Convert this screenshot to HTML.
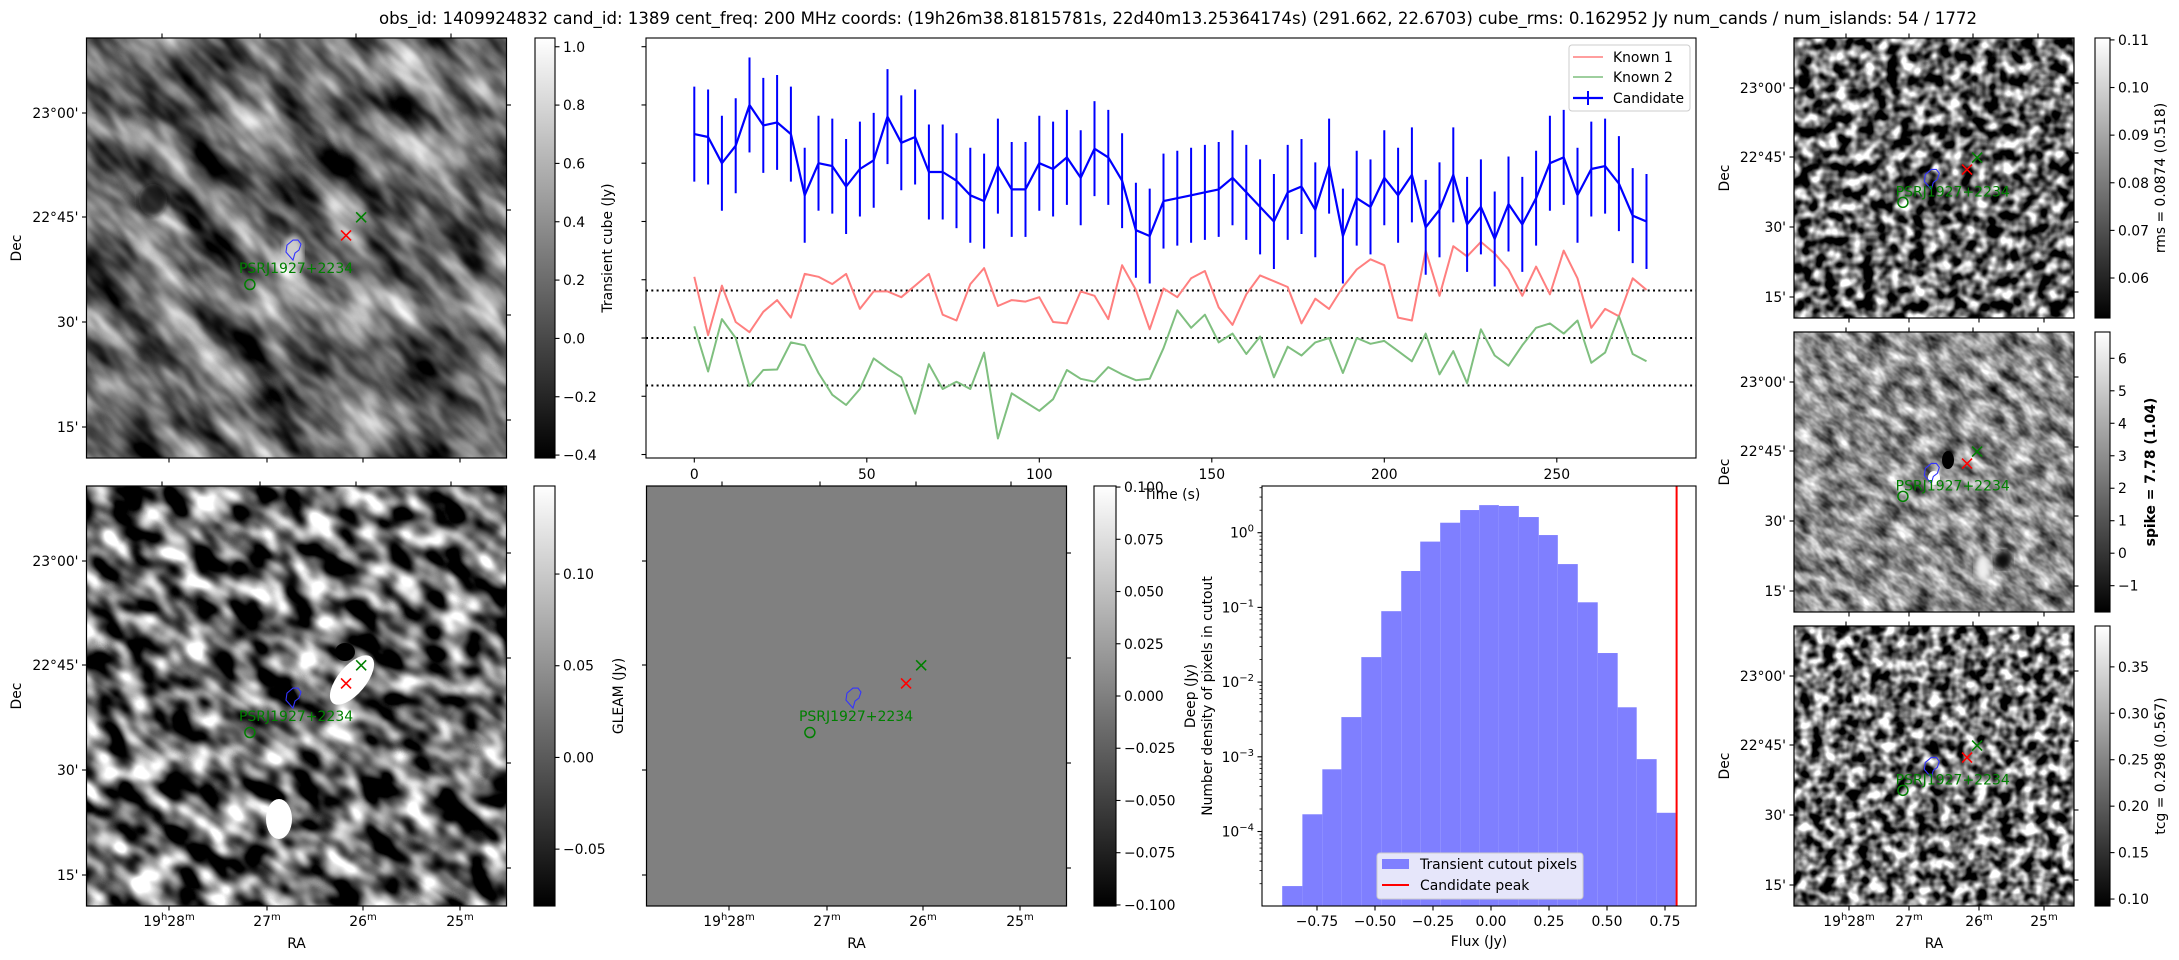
<!DOCTYPE html>
<html><head><meta charset="utf-8">
<style>
html,body{margin:0;padding:0;background:#fff;overflow:hidden;width:2179px;height:960px;}
svg{display:block;font-family:"DejaVu Sans","Liberation Sans",sans-serif;}
</style></head>
<body>
<svg id="fig" xmlns="http://www.w3.org/2000/svg" width="2179" height="960" viewBox="0 0 2179 960">
<defs>
<linearGradient id="cg" x1="0" y1="1" x2="0" y2="0"><stop offset="0" stop-color="#000"/><stop offset="1" stop-color="#fff"/></linearGradient>
<filter id="fTL" x="0" y="0" width="100%" height="100%" color-interpolation-filters="sRGB"><feTurbulence type="fractalNoise" baseFrequency="0.014 0.035" numOctaves="3" seed="3"/><feColorMatrix type="matrix" values="1.55 0 0 0 -0.37  1.55 0 0 0 -0.37  1.55 0 0 0 -0.37  0 0 0 0 1"/></filter>
<filter id="fBL" x="0" y="0" width="100%" height="100%" color-interpolation-filters="sRGB"><feTurbulence type="fractalNoise" baseFrequency="0.03 0.045" numOctaves="2" seed="7"/><feColorMatrix type="matrix" values="2.6 0 0 0 -0.9  2.6 0 0 0 -0.9  2.6 0 0 0 -0.9  0 0 0 0 1"/></filter>
<filter id="fR1" x="0" y="0" width="100%" height="100%" color-interpolation-filters="sRGB"><feTurbulence type="fractalNoise" baseFrequency="0.08" numOctaves="2" seed="11"/><feColorMatrix type="matrix" values="2.6 0 0 0 -0.9  2.6 0 0 0 -0.9  2.6 0 0 0 -0.9  0 0 0 0 1"/></filter>
<filter id="fR2" x="0" y="0" width="100%" height="100%" color-interpolation-filters="sRGB"><feTurbulence type="fractalNoise" baseFrequency="0.05 0.09" numOctaves="3" seed="5"/><feColorMatrix type="matrix" values="1.3 0 0 0 -0.1  1.3 0 0 0 -0.1  1.3 0 0 0 -0.1  0 0 0 0 1"/></filter>
<filter id="fR3" x="0" y="0" width="100%" height="100%" color-interpolation-filters="sRGB"><feTurbulence type="fractalNoise" baseFrequency="0.085" numOctaves="2" seed="19"/><feColorMatrix type="matrix" values="2.6 0 0 0 -0.85  2.6 0 0 0 -0.85  2.6 0 0 0 -0.85  0 0 0 0 1"/></filter>
<filter id="blur4"><feGaussianBlur stdDeviation="3"/></filter>
</defs>
<text x="1178" y="24" text-anchor="middle" font-size="16.7" textLength="1598" lengthAdjust="spacingAndGlyphs">obs_id: 1409924832 cand_id: 1389 cent_freq: 200 MHz coords: (19h26m38.81815781s, 22d40m13.25364174s) (291.662, 22.6703) cube_rms: 0.162952 Jy num_cands / num_islands: 54 / 1772</text>
</svg>
<script>
// ---------- light curve data ----------
const times = [0,4,8,12,16,20,24,28,32,36,40,44,48,52,56,60,64,68,72,76,80,84,88,92,96,100,104,108,112,116,120,124,128,132,136,140,144,148,152,156,160,164,168,172,176,180,184,188,192,196,200,204,208,212,216,220,224,228,232,236,240,244,248,252,256,260,264,268,272,276];
const candidate = [0.70,0.69,0.60,0.66,0.80,0.73,0.74,0.70,0.49,0.60,0.59,0.52,0.58,0.61,0.76,0.67,0.69,0.57,0.57,0.54,0.49,0.47,0.59,0.51,0.51,0.60,0.58,0.62,0.55,0.65,0.62,0.54,0.37,0.35,0.47,0.48,0.49,0.50,0.51,0.55,0.50,0.45,0.40,0.50,0.52,0.44,0.59,0.35,0.48,0.45,0.55,0.49,0.56,0.38,0.44,0.56,0.39,0.45,0.34,0.46,0.39,0.48,0.60,0.62,0.49,0.58,0.59,0.53,0.42,0.40];
const candidateErr = [0.163,0.163,0.163,0.163,0.163,0.163,0.163,0.163,0.163,0.163,0.163,0.163,0.163,0.163,0.163,0.163,0.163,0.163,0.163,0.163,0.163,0.163,0.163,0.163,0.163,0.163,0.163,0.163,0.163,0.163,0.163,0.163,0.163,0.163,0.163,0.163,0.163,0.163,0.163,0.163,0.163,0.163,0.163,0.163,0.163,0.163,0.163,0.163,0.163,0.163,0.163,0.163,0.163,0.163,0.163,0.163,0.163,0.163,0.163,0.163,0.163,0.163,0.163,0.163,0.163,0.163,0.163,0.163,0.163,0.163];
const known1 = [0.21,0.01,0.18,0.055,0.02,0.09,0.13,0.07,0.22,0.21,0.185,0.22,0.10,0.16,0.16,0.14,0.18,0.22,0.08,0.06,0.185,0.24,0.11,0.13,0.125,0.14,0.055,0.05,0.16,0.145,0.065,0.25,0.165,0.03,0.17,0.14,0.205,0.23,0.105,0.045,0.15,0.215,0.195,0.175,0.05,0.135,0.10,0.175,0.235,0.27,0.25,0.07,0.06,0.30,0.145,0.315,0.28,0.33,0.29,0.235,0.145,0.245,0.15,0.30,0.205,0.035,0.10,0.075,0.205,0.165];
const known2 = [0.04,-0.115,0.065,0.0,-0.165,-0.11,-0.108,-0.015,-0.025,-0.12,-0.195,-0.23,-0.175,-0.07,-0.105,-0.135,-0.26,-0.09,-0.175,-0.15,-0.175,-0.05,-0.345,-0.19,-0.22,-0.25,-0.21,-0.11,-0.14,-0.15,-0.10,-0.125,-0.145,-0.14,-0.035,0.095,0.035,0.08,-0.015,0.015,-0.055,0.005,-0.135,-0.03,-0.06,-0.015,0.0,-0.12,0.0,-0.02,-0.01,-0.045,-0.08,0.015,-0.125,-0.045,-0.155,0.03,-0.06,-0.095,-0.025,0.035,0.05,0.015,0.06,-0.085,-0.05,0.075,-0.055,-0.08];
const rmsLines = [0.162952, 0, -0.162952];
const timeTicks = [0,50,100,150,200,250];
const fluxTicks = [-0.4,-0.2,0,0.2,0.4,0.6,0.8,1.0];
// ---------- histogram data ----------
const binEdges = [-0.900,-0.813,-0.727,-0.645,-0.559,-0.473,-0.387,-0.305,-0.219,-0.133,-0.051,0.034,0.120,0.206,0.288,0.374,0.460,0.546,0.628,0.714,0.796];
const density = [1.86e-5,1.7e-4,6.8e-4,3.4e-3,0.0216,0.089,0.307,0.76,1.36,2.01,2.34,2.28,1.62,0.93,0.38,0.117,0.0245,4.6e-3,9.3e-4,1.78e-4];
const candidatePeak = [0.80];
const histXTicks = [-0.75,-0.50,-0.25,0.00,0.25,0.50,0.75];
const histXLabels = ["\u22120.75","\u22120.50","\u22120.25","0.00","0.25","0.50","0.75"];
const histYExp = [0,-1,-2,-3,-4];

const NS="http://www.w3.org/2000/svg";
const svg=document.getElementById('fig');
function mk(tag,attrs,parent){const e=document.createElementNS(NS,tag);for(const k in attrs)e.setAttribute(k,attrs[k]);(parent||svg).appendChild(e);return e;}
function tx(str,x,y,attrs,parent){const e=mk('text',Object.assign({x:x,y:y,'font-size':13.9,fill:'#000'},attrs||{}),parent);e.textContent=str;return e;}
const FS=13.9;

// ---------- light curve ----------
const LC={x0:646,x1:1696,y0:38,y1:458};
function lx(t){return 694.3+t*3.45;}
function ly(v){return 338-v*291.3;}
const lcG=mk('g',{});


const lcBg=mk('rect',{x:LC.x0,y:LC.y0,width:LC.x1-LC.x0,height:LC.y1-LC.y0,fill:'#fff'},lcG);


rmsLines.forEach(function(v){
  const l=mk('line',{x1:LC.x0,x2:LC.x1,y1:ly(v),y2:ly(v),stroke:'#000','stroke-width':2,'stroke-dasharray':'2 3.3'},lcG);
  
  
});
function series(vals,color,w,name){
  const d=vals.map(function(v,i){return (i?'L':'M')+lx(times[i]).toFixed(1)+' '+ly(v).toFixed(1);}).join(' ');
  const p=mk('path',{d:d,fill:'none',stroke:color,'stroke-width':w,'stroke-linejoin':'round'},lcG);
  
  
}
series(known1,'#ff7f7f',2,'known-1-line');
series(known2,'#7fbf7f',2,'known-2-line');
candidate.forEach(function(v,i){
  const e=mk('line',{x1:lx(times[i]),x2:lx(times[i]),y1:ly(v+candidateErr[i]),y2:ly(v-candidateErr[i]),stroke:'#0000ff','stroke-width':2},lcG);
  
  
});
series(candidate,'#0000ff',2.2,'candidate-line');
const lcFrame=mk('rect',{x:LC.x0,y:LC.y0,width:LC.x1-LC.x0,height:LC.y1-LC.y0,fill:'none',stroke:'#000','stroke-width':1.1},lcG);


timeTicks.forEach(function(t){
  const tk=mk('line',{x1:lx(t),x2:lx(t),y1:LC.y1,y2:LC.y1+4.5,stroke:'#000','stroke-width':1.1},lcG);
  
  
  const lb=tx(String(t),lx(t),479,{'text-anchor':'middle'},lcG);
  
  
});
fluxTicks.forEach(function(v){
  const tk=mk('line',{x1:LC.x0-4.5,x2:LC.x0,y1:ly(v),y2:ly(v),stroke:'#000','stroke-width':1.1},lcG);
  
  
});
const tlab=tx('Time (s)',1172,499,{'text-anchor':'middle'},lcG);


const lg=mk('g',{},lcG);


const lgBox=mk('rect',{x:1569,y:45,width:121,height:66,rx:3,fill:'#fff','fill-opacity':0.8,stroke:'#ccc','stroke-width':1},lg);


[['Known 1','#ff7f7f',57,1.6],['Known 2','#7fbf7f',77,1.6],['Candidate','#0000ff',98,2.2]].forEach(function(r,i){
  const ln=mk('line',{x1:1573,x2:1603,y1:r[2],y2:r[2],stroke:r[1],'stroke-width':r[3]},lg);
  
  
  if(i===2){const eb=mk('line',{x1:1588,x2:1588,y1:r[2]-7,y2:r[2]+7,stroke:r[1],'stroke-width':2},lg);
    
    }
  const t=tx(r[0],1613,r[2]+5,{},lg);
  
  
});

// ---------- histogram ----------
const H={x0:1262,x1:1696,y0:486,y1:906};
function hx(f){return 1491+f*232;}
function hy(v){return 532.7-Math.log10(v)*74.7;}
const hG=mk('g',{});


density.forEach(function(v,i){
  const top=Math.max(hy(v),H.y0);
  const b=mk('rect',{x:hx(binEdges[i]),y:top,width:hx(binEdges[i+1])-hx(binEdges[i]),height:H.y1-top,fill:'#7f7fff'},hG);
  
  
});
candidatePeak.forEach(function(f){
  const l=mk('line',{x1:hx(f),x2:hx(f),y1:H.y0,y2:H.y1,stroke:'#ff0000','stroke-width':2},hG);
  
  
});
const hFrame=mk('rect',{x:H.x0,y:H.y0,width:H.x1-H.x0,height:H.y1-H.y0,fill:'none',stroke:'#000','stroke-width':1.1},hG);


histXTicks.forEach(function(f,i){
  const tk=mk('line',{x1:hx(f),x2:hx(f),y1:H.y1,y2:H.y1+4.5,stroke:'#000','stroke-width':1.1},hG);
  
  
  const lb=tx(histXLabels[i],hx(f),926,{'text-anchor':'middle'},hG);
  
  
});
histYExp.forEach(function(e){
  const y=hy(Math.pow(10,e));
  const tk=mk('line',{x1:H.x0-4.5,x2:H.x0,y1:y,y2:y,stroke:'#000','stroke-width':1.1},hG);
  
  
  const lb=mk('text',{x:H.x0-8,y:y+5,'font-size':FS,'text-anchor':'end',fill:'#000'},hG);
  
  
  const a=document.createElementNS(NS,'tspan');a.textContent='10';lb.appendChild(a);
  const s=document.createElementNS(NS,'tspan');s.setAttribute('dy','-6');s.setAttribute('font-size','10');s.textContent=(e<0?'\u2212'+(-e):String(e));lb.appendChild(s);
});
for(let e=-5;e<1;e++){for(let m=2;m<10;m++){const y=hy(m*Math.pow(10,e));if(y<H.y0||y>H.y1)continue;
  const tk=mk('line',{x1:H.x0-2.5,x2:H.x0,y1:y,y2:y,stroke:'#000','stroke-width':0.8},hG);
  
  }}
const hxl=tx('Flux (Jy)',1479,946,{'text-anchor':'middle'},hG);


const hyl=tx('Number density of pixels in cutout',0,0,{'text-anchor':'middle',transform:'translate(1212 696) rotate(-90)'},hG);


const hl=mk('g',{},hG);


const hlb=mk('rect',{x:1377,y:853,width:206,height:46,rx:3,fill:'#e6e6fa','fill-opacity':1,stroke:'#ccc'},hl);


const hs1=mk('rect',{x:1382,y:859,width:27,height:10,fill:'#7f7fff'},hl);


const hs2=mk('line',{x1:1382,x2:1409,y1:885,y2:885,stroke:'#ff0000','stroke-width':2},hl);


const ht1=tx('Transient cutout pixels',1420,869,{},hl);


const ht2=tx('Candidate peak',1420,890,{},hl);



// ---------- image panels ----------
let clipN=0;
function raLabel(g,x,i){
  const l=mk('text',{x:x,y:926,'font-size':FS,'text-anchor':'middle',fill:'#000'},g);
  
  
  const parts=i===0?[['19',0],['h',1],['28',0],['m',1]]:[[['27','26','25'][i-1],0],['m',1]];
  let prevSup=false;
  parts.forEach(function(p){
    const s=document.createElementNS(NS,'tspan');s.textContent=p[0];
    if(p[1]){s.setAttribute('font-size','10');s.setAttribute('dy','-6');prevSup=true;}
    else if(prevSup){s.setAttribute('dy','6');prevSup=false;}
    l.appendChild(s);
  });
}
function panel(o){
  const g=mk('g',{});
  
  
  const id='clip'+(clipN++);
  const cp=mk('clipPath',{id:id},g);
  mk('rect',{x:o.x,y:o.y,width:o.s,height:o.s},cp);
  const ig=mk('g',{'clip-path':'url(#'+id+')'},g);
  
  
  mk('rect',{x:o.x,y:o.y,width:o.s,height:o.s,fill:o.base},ig);
  if(o.filter){
    const cx=o.x+o.s/2,cy=o.y+o.s/2;
    mk('rect',{x:cx-o.s,y:cy-o.s,width:2*o.s,height:2*o.s,filter:'url(#'+o.filter+')',transform:'rotate('+(o.rot||0)+' '+cx+' '+cy+')'},ig);
  }
  if(o.extra)o.extra(ig,o);
  const fr=mk('rect',{x:o.x,y:o.y,width:o.s,height:o.s,fill:'none',stroke:'#000','stroke-width':1.2},g);
  
  
  const P=function(fx,fy){return [o.x+fx*o.s,o.y+fy*o.s];};
  const gx=P(0.654,0.427), rx=P(0.618,0.470), ct=P(0.494,0.505), lb=P(0.363,0.548), cc=P(0.389,0.587);
  [[gx,'#008000','known-source-marker'],[rx,'#ff0000','candidate-marker']].forEach(function(m){
    const p=m[0];const s=5;
    const x=mk('path',{d:'M'+(p[0]-s)+' '+(p[1]-s)+'L'+(p[0]+s)+' '+(p[1]+s)+'M'+(p[0]-s)+' '+(p[1]+s)+'L'+(p[0]+s)+' '+(p[1]-s),stroke:m[1],'stroke-width':1.6,fill:'none'},g);
    
    
  });
  const c=mk('path',{d:'M'+(ct[0]-1)+' '+(ct[1]+10)+' l-7 -8 l1 -7 l6 -5 h5 l3 4 l-2 6 l-4 3 z',fill:'none',stroke:'#3333ff','stroke-width':1.1},g);
  
  
  const t=tx('PSRJ1927+2234',lb[0],lb[1]+5,{fill:'#008000','font-size':14},g);
  
  
  const ci=mk('circle',{cx:cc[0],cy:cc[1],r:5,fill:'none',stroke:'#008000','stroke-width':1.5},g);
  
  
  o.dec.forEach(function(d,i){
    const tk=mk('line',{x1:o.x-4.5,x2:o.x,y1:o.y+d,y2:o.y+d,stroke:'#000','stroke-width':1.1},g);
    
    
    if(o.decLabels){const l=tx(['23\u00b000\'','22\u00b045\'','30\'','15\''][i],o.x-8,o.y+d+5,{'text-anchor':'end'},g);
      
      }
  });
  o.rgt.forEach(function(d){
    const tk=mk('line',{x1:o.x+o.s,x2:o.x+o.s+4.5,y1:o.y+d,y2:o.y+d,stroke:'#000','stroke-width':1.1},g);
    
    
  });
  o.top.forEach(function(d){
    const tk=mk('line',{x1:o.x+d,x2:o.x+d,y1:o.y-4.5,y2:o.y,stroke:'#000','stroke-width':1.1},g);
    
    
  });
  o.bot.forEach(function(d,i){
    const tk=mk('line',{x1:o.x+d,x2:o.x+d,y1:o.y+o.s,y2:o.y+o.s+4.5,stroke:'#000','stroke-width':1.1},g);
    
    
    if(o.raLabels) raLabel(g,o.x+d,i);
  });
  if(o.raLabels){const l=tx('RA',o.x+o.s/2,948,{'text-anchor':'middle'},g);
    
    }
  if(o.decLabels){const l=tx('Dec',0,0,{'text-anchor':'middle',transform:'translate('+o.decX+' '+(o.y+o.s/2)+') rotate(-90)'},g);
    
    }
  return g;
}
function cbar(o){
  const g=mk('g',{});
  
  
  const r=mk('rect',{x:o.x0,y:o.y0,width:o.x1-o.x0,height:o.y1-o.y0,fill:'url(#cg)',stroke:'#000','stroke-width':1.1},g);
  
  
  const cy=function(v){return o.y1-(v-o.vmin)/(o.vmax-o.vmin)*(o.y1-o.y0);};
  o.ticks.forEach(function(v,i){
    const tk=mk('line',{x1:o.x1,x2:o.x1+4.5,y1:cy(v),y2:cy(v),stroke:'#000','stroke-width':1.1},g);
    
    
    const l=tx(o.labels[i],o.x1+8,cy(v)+5,{},g);
    
    
  });
  const t=tx(o.title,0,0,{'text-anchor':'middle','font-weight':o.bold?'bold':'normal',transform:'translate('+o.tx+' '+((o.y0+o.y1)/2)+') rotate(-90)'},g);
  
  
}
const bigDec=[75,179,284,389], bigRgt=[67,172,277,382], bigTop=[75.5,173.5,269.5,364.5], bigBot=[82.5,180.5,276.5,373.5];
const smDec=[50,119,189,259], smRgt=[45,115,184,254], smTop=[52,115,179,244], smBot=[55,115,185,250];
panel({name:'transient-cube-panel',x:86.5,y:38,s:420,base:'#6b6b6b',filter:'fTL',rot:45,dec:bigDec,rgt:bigRgt,top:bigTop,bot:bigBot,decLabels:true,decX:21,
  extra:function(ig){mk('ellipse',{cx:153,cy:200,rx:14,ry:16,fill:'#111',filter:'url(#blur4)',opacity:0.8},ig);mk('ellipse',{cx:293,cy:252,rx:10,ry:16,fill:'#ccc',filter:'url(#blur4)'},ig);}});
panel({name:'deep-image-panel',x:86.5,y:486,s:420,base:'#777',filter:'fBL',rot:35,dec:bigDec,rgt:bigRgt,top:bigTop,bot:bigBot,decLabels:true,raLabels:true,decX:21,
  extra:function(ig){mk('ellipse',{cx:352,cy:680,rx:14,ry:30,fill:'#fff',transform:'rotate(40 352 680)'},ig);mk('ellipse',{cx:345,cy:652,rx:10,ry:9,fill:'#000'},ig);mk('ellipse',{cx:279,cy:819,rx:13,ry:20,fill:'#fff'},ig);}});
panel({name:'gleam-panel',x:646.5,y:486,s:420,base:'#808080',dec:bigDec,rgt:bigRgt,top:bigTop,bot:bigBot,raLabels:true});
panel({name:'rms-panel',x:1794,y:38,s:280,base:'#707070',filter:'fR1',dec:smDec,rgt:smRgt,top:smTop,bot:smBot,decLabels:true,decX:1729});
panel({name:'spike-panel',x:1794,y:332,s:280,base:'#8a8a8a',filter:'fR2',rot:40,dec:smDec,rgt:smRgt,top:smTop,bot:smBot,decLabels:true,decX:1729,
  extra:function(ig){mk('ellipse',{cx:1948,cy:460,rx:6,ry:9,fill:'#000'},ig);mk('ellipse',{cx:1934,cy:478,rx:6,ry:7,fill:'#fff'},ig);mk('ellipse',{cx:2003,cy:560,rx:9,ry:9,fill:'#111',filter:'url(#blur4)'},ig);mk('ellipse',{cx:1983,cy:568,rx:8,ry:14,fill:'#eee',filter:'url(#blur4)'},ig);}});
panel({name:'tcg-panel',x:1794,y:626,s:280,base:'#707070',filter:'fR3',dec:smDec,rgt:smRgt,top:smTop,bot:smBot,decLabels:true,raLabels:true,decX:1729});
cbar({name:'transient-colorbar',x0:535,x1:555,y0:38,y1:458,vmin:-0.41,vmax:1.03,ticks:[1.0,0.8,0.6,0.4,0.2,0.0,-0.2,-0.4],labels:['1.0','0.8','0.6','0.4','0.2','0.0','\u22120.2','\u22120.4'],title:'Transient cube (Jy)',tx:612});
cbar({name:'deep-colorbar',x0:534,x1:555,y0:486,y1:906,vmin:-0.081,vmax:0.148,ticks:[0.10,0.05,0.00,-0.05],labels:['0.10','0.05','0.00','\u22120.05'],title:'GLEAM (Jy)',tx:623});
cbar({name:'gleam-colorbar',x0:1094,x1:1116,y0:486,y1:906,vmin:-0.1005,vmax:0.1005,ticks:[0.1,0.075,0.05,0.025,0,-0.025,-0.05,-0.075,-0.1],labels:['0.100','0.075','0.050','0.025','0.000','\u22120.025','\u22120.050','\u22120.075','\u22120.100'],title:'Deep (Jy)',tx:1195});
cbar({name:'rms-colorbar',x0:2095,x1:2110,y0:38,y1:318,vmin:0.0516,vmax:0.1104,ticks:[0.11,0.10,0.09,0.08,0.07,0.06],labels:['0.11','0.10','0.09','0.08','0.07','0.06'],title:'rms = 0.0874 (0.518)',tx:2165});
cbar({name:'spike-colorbar',x0:2095,x1:2110,y0:332,y1:612,vmin:-1.81,vmax:6.81,ticks:[6,5,4,3,2,1,0,-1],labels:['6','5','4','3','2','1','0','\u22121'],title:'spike = 7.78 (1.04)',tx:2155,bold:true});
cbar({name:'tcg-colorbar',x0:2095,x1:2110,y0:626,y1:906,vmin:0.0925,vmax:0.394,ticks:[0.35,0.30,0.25,0.20,0.15,0.10],labels:['0.35','0.30','0.25','0.20','0.15','0.10'],title:'tcg = 0.298 (0.567)',tx:2165});
</script>
</body></html>
